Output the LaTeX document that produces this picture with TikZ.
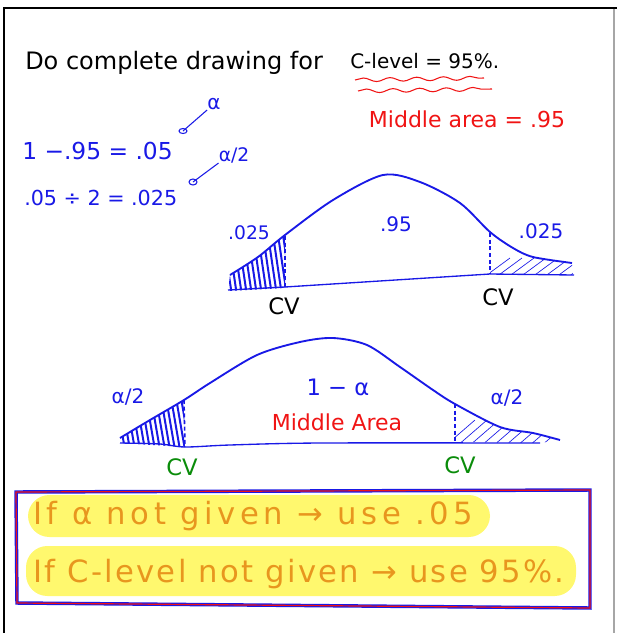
\documentclass[tikz,border=0pt]{standalone}
\usepackage{fontspec}
\setmainfont{DejaVu Sans}
\usetikzlibrary{positioning, calc, decorations.pathmorphing}
\definecolor{penblue}{RGB}{25,25,230}
\definecolor{penred}{RGB}{240,20,20}
\definecolor{pengreen}{RGB}{10,140,10}
\definecolor{hlyellow}{RGB}{255,248,110}
\definecolor{hlorange}{RGB}{232,150,30}

\begin{document}
\begin{tikzpicture}[x=0.75pt, y=-0.75pt,
      every node/.style={inner sep=0pt},
      ink/.style={font=\fontsize{#1}{#1}\selectfont},
      bluetxt/.style={ink=#1, text=penblue},
      redtxt/.style={ink=#1, text=penred},
      curve/.style={draw=penblue, line width=1.4pt},
      cvline/.style={draw=penblue, line width=1.2pt, dash pattern=on 3pt off 2pt},
      hatchdense/.style={draw=penblue, line width=1.5pt},
      hatchlight/.style={draw=penblue, line width=0.5pt},
      wave/.style={draw=penred, line width=0.8pt,
                   decorate, decoration={snake, amplitude=1.4pt, segment length=20pt}},
      rule/.style={ink=23, text=hlorange, anchor=west},
    ]
  \useasboundingbox (0,0) rectangle (617,633);
  % page frame
  \draw[line width=2pt] (4,633) -- (4,8) -- (617,8);
  \draw[black!35, line width=0.8pt] (614,9) -- (614,633);

  % heading
  \node[ink=18, anchor=west] (title) at (25,63) {Do complete drawing for};
  \node[ink=15, anchor=west] (clevel) at (350,61) {C-level = 95\%.};
  \draw[wave] (355,80) -- (484,78);
  \draw[wave] (358,91) -- (492,89);
  \node[redtxt=16.5] (middle) at (467,119) {Middle area = .95};

  % alpha work
  \node[bluetxt=17.5, anchor=west] (eqone) at (22,151) {1 −.95 = .05};
  \node[bluetxt=15.5, anchor=west] (eqtwo) at (24,198) {.05 ÷ 2 = .025};
  \node[bluetxt=15] (alpha) at (214,104) {α};
  \node[bluetxt=14] (halfalpha) at (234,155) {α/2};
  \coordinate (tagone) at (183,131);
  \coordinate (tagtwo) at (193,182);
  \draw[penblue, line width=0.8pt] (tagone) circle (4 and 2.5);
  \draw[penblue, line width=0.8pt] (tagone) -- (alpha.south west);
  \draw[penblue, line width=0.8pt] (tagtwo) circle (4 and 3);
  \draw[penblue, line width=0.8pt] (tagtwo) -- (halfalpha.south west);

  % first curve
  \coordinate (ucvAtop) at (285,236);
  \coordinate (ucvAbot) at (285,287);
  \coordinate (ucvBtop) at (490,233);
  \coordinate (ucvBbot) at (490,274);
  \begin{scope}
    \clip plot[smooth] coordinates {(230,275) (258,257) (285,235)} -- (285,288) -- (228,291) -- cycle;
    \foreach \x in {222,227,...,300}
      \draw[hatchdense] (\x-10,228) -- (\x,296);
  \end{scope}
  \begin{scope}
    \clip plot[smooth] coordinates {(490,232) (513,248) (533,257) (572,263)} -- (573,275) -- (490,274) -- cycle;
    \foreach \x in {480,492,...,590}
      \draw[hatchlight] (\x,280) -- (\x+30,258);
  \end{scope}
  \draw[curve] plot[smooth] coordinates {(230,275) (258,257) (285,235) (333,200) (383,175)
      (420,182) (460,203) (490,232) (513,248) (533,257) (572,263)};
  \draw[penblue, line width=1pt] (228,290) -- (285,287) -- (490,274) -- (574,275);
  \draw[cvline] (ucvAtop) -- (ucvAbot);
  \draw[cvline] (ucvBtop) -- (ucvBbot);
  \node[bluetxt=14] (uleft) at (249,233) {.025};
  \node[bluetxt=15] (umid) at (396,224) {.95};
  \node[bluetxt=15] (uright) at (541,231) {.025};
  \node[ink=17] (cvA) at (284,306) {CV};
  \node[ink=17] (cvB) at (498,297) {CV};

  % second curve
  \coordinate (lcvAtop) at (184,400);
  \coordinate (lcvAbot) at (185,447);
  \coordinate (lcvBtop) at (455,404);
  \coordinate (lcvBbot) at (455,442);
  \begin{scope}
    \clip plot[smooth] coordinates {(120,438) (150,420) (184,400)} -- (185,447) -- (120,443) -- cycle;
    \foreach \x in {115,120,...,200}
      \draw[hatchdense] (\x-10,392) -- (\x,450);
  \end{scope}
  \begin{scope}
    \clip plot[smooth] coordinates {(455,404) (500,427) (533,433) (560,440)} -- (540,443) -- (455,442) -- cycle;
    \foreach \x in {445,457,...,560}
      \draw[hatchlight] (\x,446) -- (\x+30,420);
  \end{scope}
  \draw[curve] plot[smooth] coordinates {(120,438) (150,420) (184,400) (210,383) (257,355)
      (300,342) (333,338) (367,345) (400,367) (433,390) (455,404) (500,427) (533,433) (560,440)};
  \draw[penblue, line width=1pt] plot[smooth] coordinates {(120,443) (160,444) (185,447) (230,445) (320,443) (540,443)};
  \draw[cvline] (lcvAtop) -- (lcvAbot);
  \draw[cvline] (lcvBtop) -- (lcvBbot);
  \node[bluetxt=15] (lhalf) at (128,397) {α/2};
  \node[bluetxt=17] (oneminus) at (338,387) {1 − α};
  \node[redtxt=16.5] (midarea) at (337,422) {Middle Area};
  \node[bluetxt=15] (rhalf) at (507,398) {α/2};
  \node[ink=17, text=pengreen] (cvC) at (182,467) {CV};
  \node[ink=17, text=pengreen] (cvD) at (460,465) {CV};

  % rules box
  \fill[hlyellow, rounded corners=16pt] (28,495) rectangle (490,537);
  \fill[hlyellow, rounded corners=16pt] (26,546) rectangle (576,596);
  \draw[penblue, line width=2.6pt] (16,492) -- (590,490) -- (590,608) -- (17,603) -- cycle;
  \draw[penred, line width=0.9pt] (16,492) -- (590,490) -- (590,608) -- (17,603) -- cycle;
  \node[rule] (ruleone) at (33,516) {\addfontfeature{LetterSpace=15}If α not given → use .05};
  \node[rule] (ruletwo) at (33,574) {\addfontfeature{LetterSpace=7.5}If C-level not given → use 95\%.};
\end{tikzpicture}
\end{document}
